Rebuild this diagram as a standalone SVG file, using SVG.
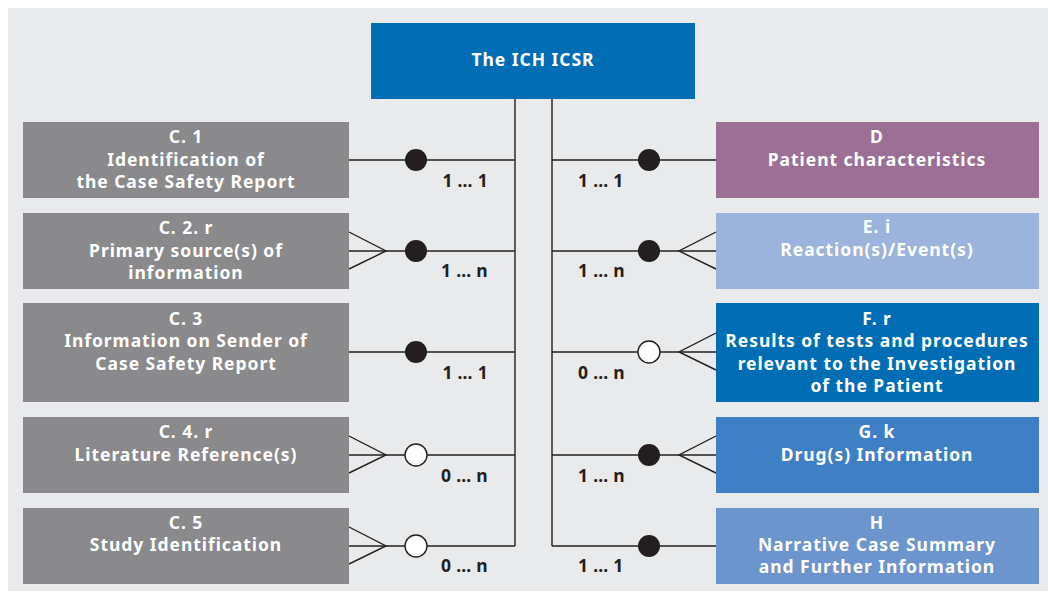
<svg xmlns="http://www.w3.org/2000/svg" width="1048" height="592" viewBox="0 0 1048 592">
<style>
.box{stroke:none}
.t{font-family:"Noto Sans","Liberation Sans",sans-serif;font-weight:700;font-size:17.5px;letter-spacing:0.95px;fill:#ffffff;text-anchor:middle}
.lbl{font-family:"Noto Sans","Liberation Sans",sans-serif;font-weight:700;font-size:17.5px;letter-spacing:0.3px;fill:#231f20}
.ln{stroke:#231f20;stroke-width:1.4;fill:none}
.dot{fill:#231f20}
.ring{fill:#ffffff;stroke:#231f20;stroke-width:1.4}
</style>
<rect x="8" y="8" width="1040" height="583" fill="#e9eaec"/>
<g id="connectors">
<path class="ln" d="M515 99 V546 M552 99 V546"/>
<path class="ln" d="M349 160 H515 M349 251 H515 M349 352 H515 M349 455 H515 M349 546 H515"/>
<path class="ln" d="M552 160 H716 M552 251 H716 M552 352 H716 M552 455 H716 M552 546 H716"/>
<path class="ln" d="M349 232 L386 251 L349 269 M349 436 L386 455 L349 473 M349 527 L386 546 L349 564"/>
<path class="ln" d="M716 232 L679 251 L716 269 M716 333 L679 352 L716 370 M716 436 L679 455 L716 473"/>
<circle class="dot" cx="416" cy="160" r="11"/>
<circle class="dot" cx="416" cy="251" r="11"/>
<circle class="dot" cx="416" cy="352" r="11"/>
<circle class="ring" cx="416" cy="455" r="11"/>
<circle class="ring" cx="416" cy="546" r="11"/>
<circle class="dot" cx="649" cy="160" r="11"/>
<circle class="dot" cx="649" cy="251" r="11"/>
<circle class="ring" cx="649" cy="352" r="11"/>
<circle class="dot" cx="649" cy="455" r="11"/>
<circle class="dot" cx="649" cy="546" r="11"/>
<g class="lbl" text-anchor="end">
<text x="488" y="187">1 … 1</text>
<text x="488" y="277">1 … n</text>
<text x="488" y="379">1 … 1</text>
<text x="488" y="482">0 … n</text>
<text x="488" y="572">0 … n</text>
</g>
<g class="lbl">
<text x="578" y="187">1 … 1</text>
<text x="578" y="277">1 … n</text>
<text x="578" y="379">0 … n</text>
<text x="578" y="482">1 … n</text>
<text x="578" y="572">1 … 1</text>
</g>
</g>
<g id="ich">
<rect class="box" x="371" y="23" width="324" height="76" fill="#006db5"/>
<text class="t" x="533" y="66">The ICH ICSR</text>
</g>
<g id="c1">
<rect class="box" x="23" y="122" width="326" height="76" fill="#8a8a8c"/>
<text class="t" x="186" y="143">C. 1</text>
<text class="t" x="186" y="166">Identification of</text>
<text class="t" x="186" y="188">the Case Safety Report</text>
</g>
<g id="c2">
<rect class="box" x="23" y="213" width="326" height="76" fill="#8a8a8c"/>
<text class="t" x="186" y="234">C. 2. r</text>
<text class="t" x="186" y="257">Primary source(s) of</text>
<text class="t" x="186" y="279">information</text>
</g>
<g id="c3">
<rect class="box" x="23" y="303" width="326" height="99" fill="#8a8a8c"/>
<text class="t" x="186" y="325">C. 3</text>
<text class="t" x="186" y="347">Information on Sender of</text>
<text class="t" x="186" y="370">Case Safety Report</text>
</g>
<g id="c4">
<rect class="box" x="23" y="417" width="326" height="76" fill="#8a8a8c"/>
<text class="t" x="186" y="438">C. 4. r</text>
<text class="t" x="186" y="461">Literature Reference(s)</text>
</g>
<g id="c5">
<rect class="box" x="23" y="508" width="326" height="76" fill="#8a8a8c"/>
<text class="t" x="186" y="529">C. 5</text>
<text class="t" x="186" y="551">Study Identification</text>
</g>
<g id="d">
<rect class="box" x="716" y="122" width="323" height="76" fill="#9b7094"/>
<text class="t" x="877" y="143">D</text>
<text class="t" x="877" y="166">Patient characteristics</text>
</g>
<g id="e">
<rect class="box" x="716" y="213" width="323" height="76" fill="#9cb3dc"/>
<text class="t" x="877" y="233">E. i</text>
<text class="t" x="877" y="256">Reaction(s)/Event(s)</text>
</g>
<g id="f">
<rect class="box" x="716" y="303" width="323" height="99" fill="#006db5"/>
<text class="t" x="877" y="325">F. r</text>
<text class="t" x="877" y="347">Results of tests and procedures</text>
<text class="t" x="877" y="370">relevant to the Investigation</text>
<text class="t" x="877" y="392">of the Patient</text>
</g>
<g id="g">
<rect class="box" x="716" y="417" width="323" height="76" fill="#3f7fc4"/>
<text class="t" x="877" y="438">G. k</text>
<text class="t" x="877" y="461">Drug(s) Information</text>
</g>
<g id="h">
<rect class="box" x="716" y="508" width="323" height="76" fill="#6b95cc"/>
<text class="t" x="877" y="529">H</text>
<text class="t" x="877" y="551">Narrative Case Summary</text>
<text class="t" x="877" y="573">and Further Information</text>
</g>
</svg>
